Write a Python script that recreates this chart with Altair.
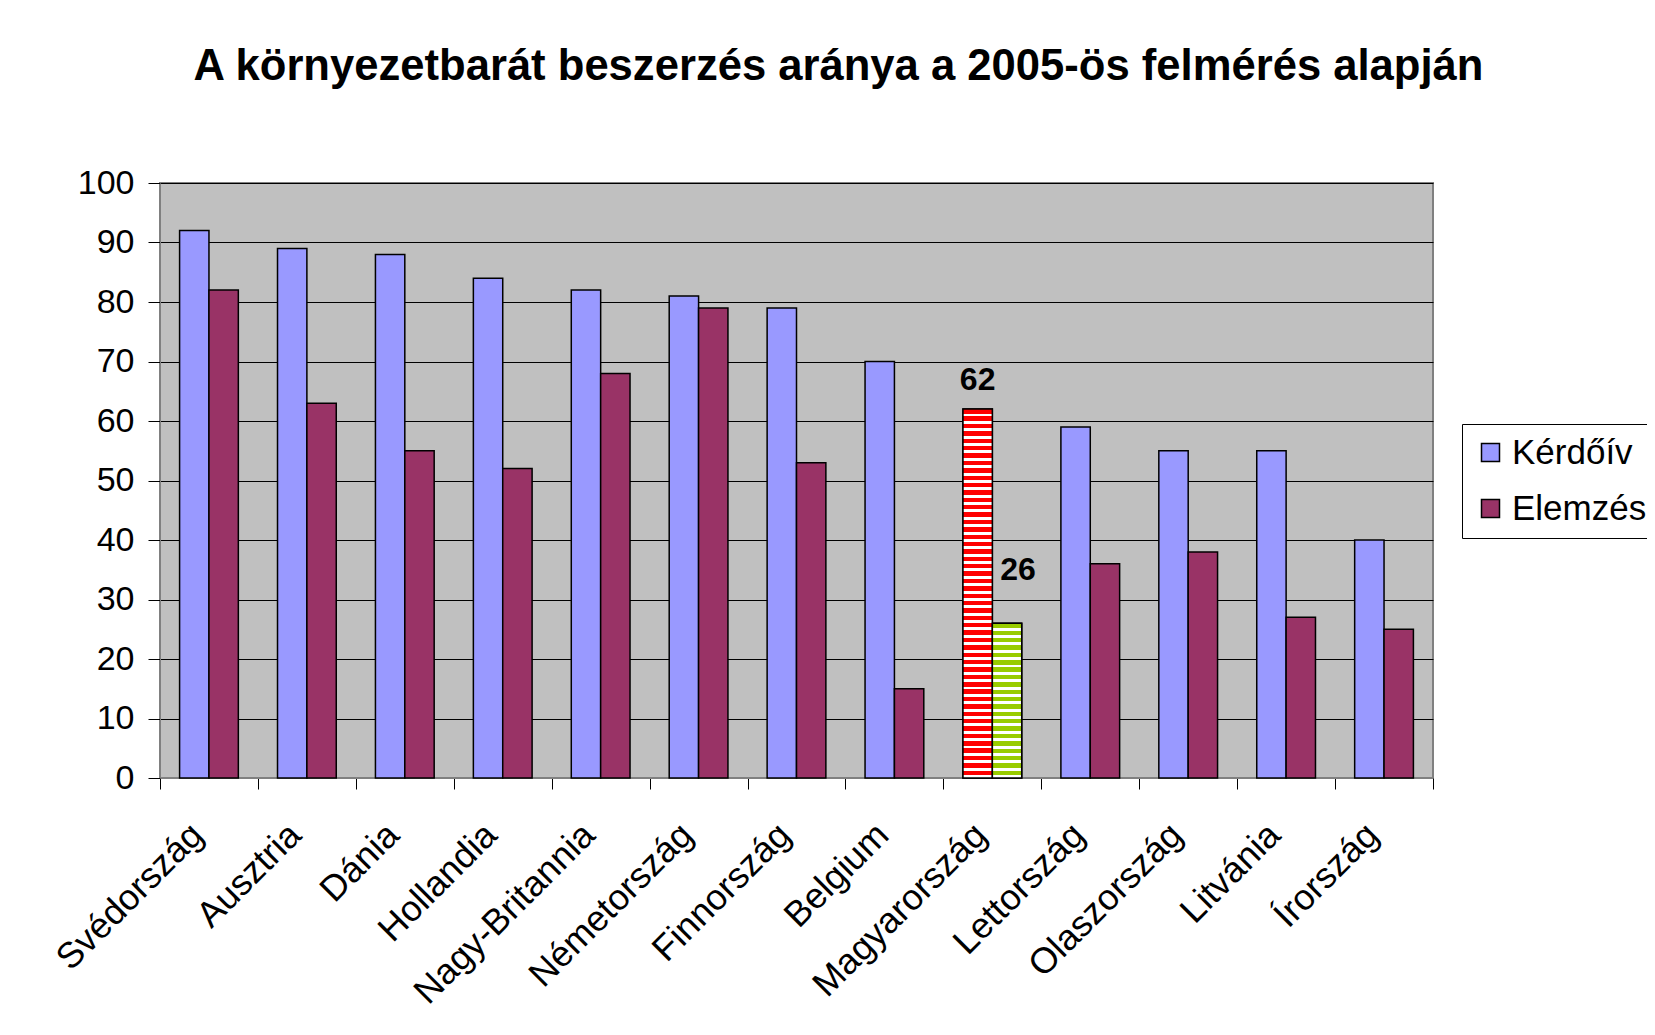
import altair as alt
import pandas as pd

countries = ["Svédország", "Ausztria", "Dánia", "Hollandia", "Nagy-Britannia",
             "Németország", "Finnország", "Belgium", "Magyarország", "Lettország",
             "Olaszország", "Litvánia", "Írország"]
kerdoiv = [92, 89, 88, 84, 82, 81, 79, 70, 62, 59, 55, 55, 40]
elemzes = [82, 63, 55, 52, 68, 79, 53, 15, 26, 36, 38, 27, 25]
series = ["Kérdőív", "Elemzés"]
colors = ["#9999FF", "#993366"]
y_ticks = [0, 10, 20, 30, 40, 50, 60, 70, 80, 90, 100]
highlight = "Magyarország"

rows = []
for c, k, e in zip(countries, kerdoiv, elemzes):
    rows.append({"country": c, "series": series[0], "value": k})
    rows.append({"country": c, "series": series[1], "value": e})
df = pd.DataFrame(rows)


def stripes(color, n, frac=0.6):
    stops = []
    for i in range(n):
        a = i / n
        b = (i + frac) / n
        c = (i + 1) / n
        stops += [{"offset": a, "color": color}, {"offset": b, "color": color},
                  {"offset": b, "color": "white"}, {"offset": c, "color": "white"}]
    return {"gradient": "linear", "x1": 0, "y1": 0, "x2": 0, "y2": 1, "stops": stops}


FONT = "Liberation Sans"

x_enc = alt.X("country:N", sort=countries, title=None,
              scale=alt.Scale(paddingInner=0, paddingOuter=0),
              axis=alt.Axis(tickBand="extent", labelAngle=-45, labelAlign="right",
                            labelBaseline="middle", labelFontSize=36, labelPadding=40,
                            labelOffset=-12, labelLimit=0,
                            tickSize=11, tickColor="black", domainColor="#808080",
                            labelColor="black", grid=False))
xo_enc = alt.XOffset("series:N", sort=series,
                     scale=alt.Scale(paddingInner=0, paddingOuter=0.667))
y_enc = alt.Y("value:Q", title=None,
              scale=alt.Scale(domain=[0, 100], nice=False),
              axis=alt.Axis(values=y_ticks, labelFontSize=34, labelPadding=14,
                            tickSize=12, tickColor="black", domainColor="#808080",
                            labelColor="black", grid=True, gridColor="black",
                            gridWidth=1))

base = alt.Chart(df)

bars = base.mark_bar(stroke="black", strokeWidth=1.5).encode(
    x=x_enc, xOffset=xo_enc, y=y_enc,
    color=alt.Color("series:N", sort=series,
                    scale=alt.Scale(domain=series, range=colors),
                    legend=alt.Legend(title=None, orient="none", legendX=1302, legendY=241,
                                      strokeColor="black", fillColor="white", padding=11,
                                      rowPadding=20, labelFontSize=35, labelColor="black",
                                      symbolType="square", symbolSize=324,
                                      symbolStrokeColor="black", symbolStrokeWidth=1.5,
                                      symbolOpacity=1, labelOffset=4, labelLimit=0)),
)

hu_k = base.transform_filter(
    (alt.datum.country == highlight) & (alt.datum.series == series[0])
).mark_bar(fill=stripes("#FF0000", 50), stroke="black", strokeWidth=1.5).encode(
    x=alt.X("country:N", sort=countries), xOffset=alt.XOffset("series:N", sort=series), y="value:Q")

hu_e = base.transform_filter(
    (alt.datum.country == highlight) & (alt.datum.series == series[1])
).mark_bar(fill=stripes("#99CC00", 21), stroke="black", strokeWidth=1.5).encode(
    x=alt.X("country:N", sort=countries), xOffset=alt.XOffset("series:N", sort=series), y="value:Q")

lab_k = base.transform_filter(
    (alt.datum.country == highlight) & (alt.datum.series == series[0])
).mark_text(fontSize=32, fontWeight="bold", baseline="middle", dy=-29, color="black").encode(
    x=alt.X("country:N", sort=countries), xOffset=alt.XOffset("series:N", sort=series),
    y="value:Q", text="value:Q")

lab_e = base.transform_filter(
    (alt.datum.country == highlight) & (alt.datum.series == series[1])
).mark_text(fontSize=32, fontWeight="bold", baseline="middle", dx=11, dy=-53, color="black").encode(
    x=alt.X("country:N", sort=countries), xOffset=alt.XOffset("series:N", sort=series),
    y="value:Q", text="value:Q")

chart = alt.layer(bars, hu_k, hu_e, lab_k, lab_e).properties(
    width=1273, height=595,
    title=alt.TitleParams("A környezetbarát beszerzés aránya a 2005-ös felmérés alapján",
                          fontSize=43.6, fontWeight="bold", font=FONT, color="black",
                          anchor="middle", frame="group", dx=42, offset=76),
    autosize=alt.AutoSizeParams(type="none"),
    padding={"left": 152, "top": 175, "right": 214, "bottom": 249},
    background="white",
).configure(font=FONT).configure_view(
    fill="#C0C0C0", stroke="#808080", strokeWidth=2
)

chart.save("out.html", embed_options={"renderer": "svg", "actions": False})
